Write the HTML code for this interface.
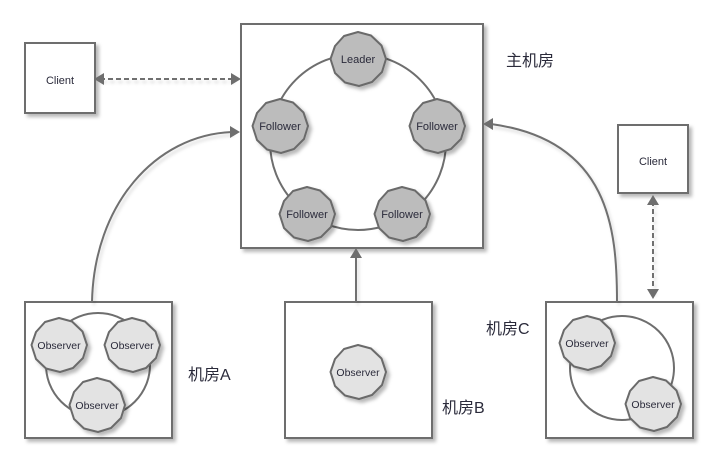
<!DOCTYPE html>
<html><head><meta charset="utf-8"><style>
html,body{margin:0;padding:0;background:#fff;}
svg{display:block;}
.t{font-family:"Liberation Sans","Noto Sans CJK SC",sans-serif;fill:#2a2a3a;}
</style></head><body>
<svg width="718" height="464" viewBox="0 0 718 464" xmlns="http://www.w3.org/2000/svg">
<defs>
<filter id="sh" x="-30%" y="-30%" width="160%" height="160%">
<feDropShadow dx="3" dy="3" stdDeviation="1.8" flood-color="#000" flood-opacity="0.28"/>
</filter>
<filter id="lsh" x="-30%" y="-30%" width="160%" height="160%">
<feDropShadow dx="2" dy="3" stdDeviation="1.5" flood-color="#000" flood-opacity="0.15"/>
</filter>
<path id="blob" d="M28,0 L23.5,-13.5 L13,-23.5 L0,-27 L-14,-23 L-23,-13 L-27.5,0 L-23,14 L-13,23.5 L1,27 L14,23 L24,13 Z"/>
</defs>

<g stroke="#6e6e6e" stroke-width="2" fill="#fff" filter="url(#sh)">
<!-- boxes -->
<rect x="25" y="43" width="70" height="70"/>
<rect x="241" y="24" width="242" height="224"/>
<rect x="618" y="125" width="70" height="68"/>
<rect x="25" y="302" width="147" height="136"/>
<rect x="285" y="302" width="147" height="136"/>
<rect x="546" y="302" width="147" height="136"/>
</g>

<!-- connectors -->
<g stroke="#707070" stroke-width="2" fill="none" filter="url(#lsh)">
<path d="M92,302 C94,205 155,135 232,132"/>
<path d="M617,302 C617,230 610,140 491,124"/>
<path d="M356,302 L356,255"/>
<path d="M100,79 L234,79" stroke-dasharray="5,3"/>
<path d="M653,201 L653,293" stroke-dasharray="5,3"/>
</g>
<g fill="#6e6e6e">
<path d="M240,132 L230,126 L230,138 Z"/>
<path d="M483,124 L493,118 L493,130 Z"/>
<path d="M356,248 L350,258 L362,258 Z"/>
<path d="M94,79 L104,73 L104,85 Z"/>
<path d="M241,79 L231,73 L231,85 Z"/>
<path d="M653,195 L647,205 L659,205 Z"/>
<path d="M653,299 L647,289 L659,289 Z"/>
</g>

<!-- rings -->
<g stroke="#6e6e6e" stroke-width="2" fill="none">
<circle cx="358" cy="142" r="88"/>
<circle cx="98" cy="365" r="52"/>
<circle cx="622" cy="368" r="52"/>
</g>

<!-- main nodes -->
<g stroke="#6b6b6b" stroke-width="2" fill="#bcbcbc" filter="url(#sh)" stroke-linejoin="round">
<use href="#blob" transform="translate(358,59)"/>
<use href="#blob" transform="translate(280,126)"/>
<use href="#blob" transform="translate(437,126)"/>
<use href="#blob" transform="translate(307,214)"/>
<use href="#blob" transform="translate(402,214)"/>
</g>
<g stroke="#6b6b6b" stroke-width="2" fill="#e3e3e3" filter="url(#sh)" stroke-linejoin="round">
<use href="#blob" transform="translate(59,345)"/>
<use href="#blob" transform="translate(132,345)"/>
<use href="#blob" transform="translate(97,405)"/>
<use href="#blob" transform="translate(358,372)"/>
<use href="#blob" transform="translate(587,343)"/>
<use href="#blob" transform="translate(653,404)"/>
</g>

<!-- labels -->
<g class="t" font-size="11" text-anchor="middle">
<text x="60" y="84">Client</text>
<text x="653" y="165">Client</text>
<text x="358" y="63">Leader</text>
<text x="280" y="130">Follower</text>
<text x="437" y="130">Follower</text>
<text x="307" y="218">Follower</text>
<text x="402" y="218">Follower</text>
</g>
<g class="t" font-size="10.5" text-anchor="middle">
<text x="59" y="349">Observer</text>
<text x="132" y="349">Observer</text>
<text x="97" y="409">Observer</text>
<text x="358" y="376">Observer</text>
<text x="587" y="347">Observer</text>
<text x="653" y="408">Observer</text>
</g>
<g class="t" font-size="16">
<text x="506" y="66">主机房</text>
<text x="188" y="380">机房A</text>
<text x="442" y="413">机房B</text>
<text x="486" y="334">机房C</text>
</g>
</svg>
</body></html>
